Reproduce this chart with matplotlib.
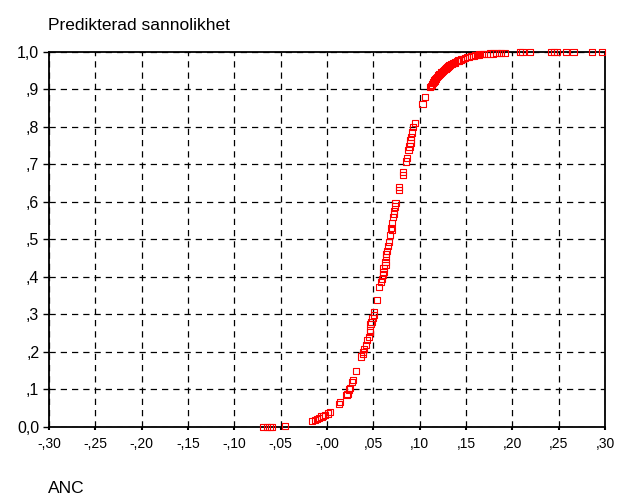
import numpy as np
import matplotlib.pyplot as plt

plt.rcParams['font.family'] = ['Liberation Sans', 'DejaVu Sans']

# ANC values and predicted probability for each case
anc = [-0.069, -0.065, -0.062, -0.060, -0.045,
       -0.016, -0.013, -0.011, -0.009, -0.006, -0.004, -0.002, 0.001, 0.003,
       0.013, 0.014, 0.021, 0.022, 0.024, 0.025, 0.027, 0.028, 0.031,
       0.037, 0.039, 0.039, 0.040, 0.042, 0.043, 0.045, 0.046,
       0.046, 0.047, 0.048, 0.049, 0.051, 0.051, 0.054, 0.056, 0.058, 0.059,
       0.060, 0.061, 0.061, 0.063, 0.063, 0.064, 0.064, 0.065, 0.066, 0.067,
       0.068, 0.069, 0.070, 0.070, 0.071, 0.072, 0.072, 0.073, 0.074,
       0.078, 0.078, 0.082, 0.082, 0.085, 0.086, 0.088, 0.089, 0.090, 0.090,
       0.091, 0.092, 0.093, 0.095, 0.103, 0.106,
       0.111, 0.112, 0.113, 0.114, 0.115, 0.116, 0.117, 0.118, 0.119, 0.120,
       0.121, 0.122, 0.123, 0.124, 0.125, 0.126, 0.127, 0.128, 0.129, 0.130,
       0.131, 0.132, 0.133, 0.134, 0.135, 0.136, 0.137, 0.138, 0.140, 0.141,
       0.142, 0.144, 0.145, 0.147, 0.149, 0.151, 0.153, 0.156, 0.158, 0.160,
       0.162, 0.164, 0.167,
       0.169, 0.172, 0.176, 0.179, 0.183, 0.186, 0.188, 0.192, 0.208, 0.211,
       0.219, 0.242, 0.245, 0.248, 0.258, 0.266, 0.286, 0.297]
prob = [0.001, 0.001, 0.001, 0.001, 0.003,
        0.016, 0.019, 0.021, 0.024, 0.028, 0.029, 0.032, 0.036, 0.039,
        0.061, 0.066, 0.085, 0.089, 0.100, 0.105, 0.119, 0.125, 0.149,
        0.188, 0.195, 0.201, 0.208, 0.219, 0.232, 0.239, 0.254,
        0.259, 0.274, 0.281, 0.290, 0.299, 0.307, 0.339, 0.374, 0.387, 0.394,
        0.405, 0.414, 0.423, 0.432, 0.441, 0.453, 0.461, 0.470, 0.483, 0.494,
        0.512, 0.530, 0.525, 0.544, 0.559, 0.568, 0.576, 0.588, 0.597,
        0.632, 0.640, 0.672, 0.679, 0.708, 0.717, 0.739, 0.748, 0.757, 0.765,
        0.774, 0.785, 0.799, 0.811, 0.861, 0.879,
        0.906, 0.909, 0.913, 0.917, 0.920, 0.924, 0.928, 0.931, 0.934, 0.937,
        0.940, 0.942, 0.945, 0.947, 0.950, 0.952, 0.954, 0.956, 0.958, 0.960,
        0.962, 0.964, 0.965, 0.967, 0.968, 0.970, 0.971, 0.972, 0.975, 0.976,
        0.977, 0.979, 0.980, 0.982, 0.984, 0.986, 0.987, 0.989, 0.990, 0.991,
        0.992, 0.993, 0.994,
        0.995, 0.995, 0.996, 0.996, 0.997, 0.997, 0.997, 0.998, 0.999, 0.999,
        0.999, 1.000, 1.000, 1.000, 1.000, 1.000, 1.000, 1.000]

xticks = [-0.30, -0.25, -0.20, -0.15, -0.10, -0.05, 0.00, 0.05, 0.10, 0.15, 0.20, 0.25, 0.30]
xlabels = ['-,30', '-,25', '-,20', '-,15', '-,10', '-,05', '-,00',
           ',05', ',10', ',15', ',20', ',25', ',30']
yticks = [0.0, 0.1, 0.2, 0.3, 0.4, 0.5, 0.6, 0.7, 0.8, 0.9, 1.0]
ylabels = ['0,0', ',1', ',2', ',3', ',4', ',5', ',6', ',7', ',8', ',9', '1,0']

fig = plt.figure(figsize=(6.18, 4.95), dpi=100)
ax = fig.add_axes([0.0793, 0.1374, 0.8997, 0.7576])

ax.scatter(anc, prob, marker='s', s=20, facecolors='none', edgecolors='#ff0000',
           linewidths=0.8, clip_on=False, zorder=5)

ax.set_xlim(-0.30, 0.30)
ax.set_ylim(0.0, 1.0)
ax.set_xticks(xticks)
ax.set_xticklabels(xlabels, fontsize=10)
ax.set_yticks(yticks)
ax.set_yticklabels(ylabels, fontsize=11.5)
ax.tick_params(axis='x', length=2, width=1.5, pad=5)
ax.tick_params(axis='y', length=4, width=1, pad=3)

ax.grid(True, color='black', linestyle=(0, (5, 4)), linewidth=0.9)
for sp in ax.spines.values():
    sp.set_linewidth(1.3)
    sp.set_zorder(4)

fig.text(48 / 618, 1 - 29.5 / 495, 'Predikterad sannolikhet', fontsize=12.5, va='baseline')
fig.text(48 / 618, 1 - 493 / 495, 'ANC', fontsize=12.5, va='baseline')

fig.savefig('out.png', dpi=100)
